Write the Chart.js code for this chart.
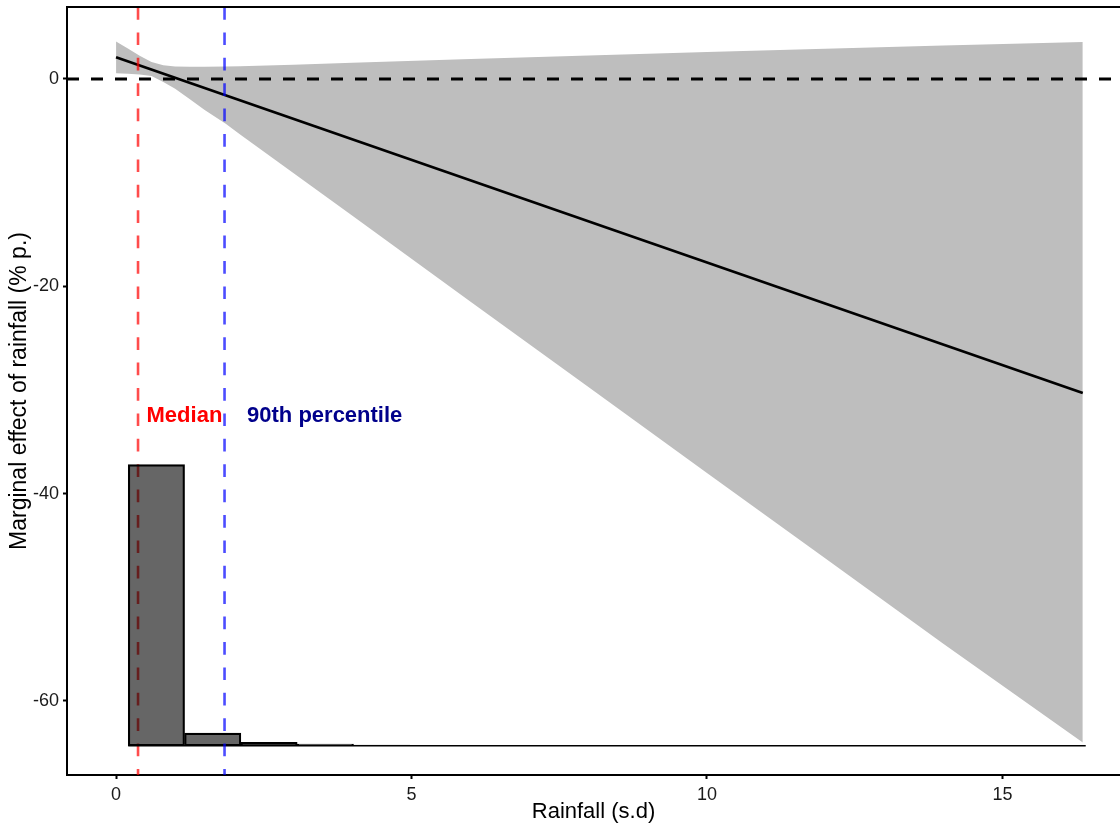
<!DOCTYPE html>
<html>
<head>
<meta charset="utf-8">
<script src="https://cdn.jsdelivr.net/npm/chart.js@4.4.1/dist/chart.umd.min.js"></script>
<style>
  html, body { margin: 0; padding: 0; background: #fff; }
  #wrap { width: 1120px; height: 826px; }
</style>
</head>
<body>
<div id="wrap"><canvas id="me-chart" width="1120" height="826"></canvas></div>
<script>
// Marginal effect of rainfall and its 95% band
const bandX     = [0, 0.2, 0.4, 0.6, 0.8, 1.0, 1.25, 1.5, 1.85, 2.1, 3, 4, 6, 8, 10, 12, 14, 16.36];
const bandUpper = [3.62, 2.95, 2.25, 1.64, 1.32, 1.2, 1.18, 1.18, 1.2, 1.22, 1.38, 1.56, 1.92, 2.26, 2.6, 2.92, 3.24, 3.57];
const bandLower = [0.55, 0.5, 0.44, 0.28, -0.28, -0.95, -1.95, -3.0, -4.3, -5.35, -9.06, -13.2, -21.48, -29.74, -38.0, -46.24, -54.48, -64.0];
const fitX = [0, 16.36];
const fitY = [2.1, -30.3];

// Rainfall distribution, drawn as a histogram along the bottom
const binCenters = [0.683, 1.636, 2.589, 3.542, 4.495, 5.448, 6.401, 7.354, 8.307, 9.26, 10.213, 11.166, 12.119, 13.072, 14.025, 14.978, 15.931];
const binTops    = [-37.2, -63.1, -64.0, -64.15, -64.25, -64.29, -64.3, -64.32, -64.32, -64.32, -64.32, -64.32, -64.32, -64.32, -64.32, -64.32, -64.32];
const histBase = -64.32;
const histSpan = [0.206, 16.41];

// Reference lines and their labels
const medianX = 0.372;
const p90X = 1.836;
const refLabels = ['Median', '90th percentile'];
const refLabelX = [0.516, 2.217];
const refLabelY = [-33.1, -33.1];
const refLabelColors = ['#FF0000', '#00008B'];

const xTicks = [0, 5, 10, 15];
const yTicks = [-60, -40, -20, 0];
const xRange = [-0.83, 16.99];
const yRange = [-67.14, 6.945];

const FONT = "'Liberation Sans', Arial, sans-serif";
Chart.defaults.font.family = FONT;

const pts = (xs, ys) => xs.map((x, i) => ({ x: x, y: ys[i] }));

// top frame line + text annotations
const frameAndText = {
    id: 'frameAndText',
    afterDatasetsDraw(chart) {
        const { ctx, chartArea, scales: { x, y } } = chart;
        ctx.save();
        ctx.strokeStyle = '#000';
        ctx.lineWidth = 2;
        ctx.beginPath();
        ctx.moveTo(chartArea.left - 1, chartArea.top);
        ctx.lineTo(chartArea.right, chartArea.top);
        ctx.stroke();

        ctx.font = 'bold 22px ' + FONT;
        ctx.textAlign = 'left';
        ctx.textBaseline = 'alphabetic';
        refLabels.forEach((t, i) => {
            ctx.fillStyle = refLabelColors[i];
            ctx.fillText(t, x.getPixelForValue(refLabelX[i]), y.getPixelForValue(refLabelY[i]));
        });
        ctx.restore();
    }
};

const lineBase = { pointRadius: 0, pointHoverRadius: 0, tension: 0, fill: false };

const axisGrid = {
    display: true,
    offset: false,
    drawOnChartArea: false,
    drawTicks: true,
    tickLength: 4,
    tickWidth: 2,
    tickColor: '#000',
    color: '#000'
};

const ctx = document.getElementById('me-chart').getContext('2d');
const chart = new Chart(ctx, {
    type: 'line',
    data: {
        datasets: [
            {
                ...lineBase,
                data: pts(bandX, bandUpper),
                borderColor: 'rgba(0,0,0,0)',
                borderWidth: 0,
                backgroundColor: '#BEBEBE',
                fill: '+1',
                order: 10
            },
            {
                ...lineBase,
                data: pts(bandX, bandLower),
                borderColor: 'rgba(0,0,0,0)',
                borderWidth: 0,
                order: 9
            },
            {
                ...lineBase,
                data: pts(fitX, fitY),
                borderColor: '#000',
                borderWidth: 2.7,
                order: 8
            },
            {
                // zero line
                ...lineBase,
                data: pts(xRange, [0, 0]),
                borderColor: '#000',
                borderWidth: 3,
                borderDash: [12, 12],
                order: 7
            },
            {
                ...lineBase,
                data: pts([medianX, medianX], [yRange[1], yRange[0]]),
                borderColor: 'rgba(255,0,0,0.7)',
                borderWidth: 2.6,
                borderDash: [12.7, 12.7],
                order: 6
            },
            {
                type: 'bar',
                data: binCenters.map((c, i) => ({ x: c, y: [histBase, binTops[i]] })),
                backgroundColor: 'rgba(0,0,0,0.6)',
                borderColor: '#000',
                borderWidth: 1.5,
                borderSkipped: false,
                barPercentage: 1,
                categoryPercentage: 1,
                order: 5
            },
            {
                ...lineBase,
                data: pts(histSpan, [histBase, histBase]),
                borderColor: '#000',
                borderWidth: 1.5,
                order: 4
            },
            {
                ...lineBase,
                data: pts([p90X, p90X], [yRange[1], yRange[0]]),
                borderColor: 'rgba(0,0,255,0.7)',
                borderWidth: 2.6,
                borderDash: [12.7, 12.7],
                order: 3
            }
        ]
    },
    options: {
        responsive: false,
        animation: false,
        layout: { padding: { top: 7, right: 0, bottom: 0, left: 0 } },
        plugins: {
            legend: { display: false },
            tooltip: { enabled: false }
        },
        scales: {
            x: {
                type: 'linear',
                min: xRange[0],
                max: xRange[1],
                offset: false,
                afterBuildTicks: (s) => { s.ticks = xTicks.map(v => ({ value: v })); },
                afterFit: (s) => { s.height = 51; s.paddingLeft = 0; s.paddingRight = 0; },
                grid: axisGrid,
                border: { display: true, color: '#000', width: 2 },
                ticks: {
                    color: '#1a1a1a',
                    font: { size: 18 },
                    padding: 5,
                    maxRotation: 0
                },
                title: {
                    display: true,
                    text: 'Rainfall (s.d)',
                    color: '#000',
                    font: { size: 22 },
                    padding: { top: 0, bottom: 1 }
                }
            },
            y: {
                type: 'linear',
                min: yRange[0],
                max: yRange[1],
                afterBuildTicks: (s) => { s.ticks = yTicks.map(v => ({ value: v })); },
                afterFit: (s) => { s.width = 67; s.paddingTop = 0; s.paddingBottom = 0; },
                grid: axisGrid,
                border: { display: true, color: '#000', width: 2 },
                ticks: {
                    color: '#1a1a1a',
                    font: { size: 18 },
                    padding: 4
                },
                title: {
                    display: true,
                    text: 'Marginal effect of rainfall (% p.)',
                    color: '#000',
                    font: { size: 23 },
                    padding: { top: 6, bottom: 0 }
                }
            }
        }
    },
    plugins: [frameAndText]
});
</script>
</body>
</html>
